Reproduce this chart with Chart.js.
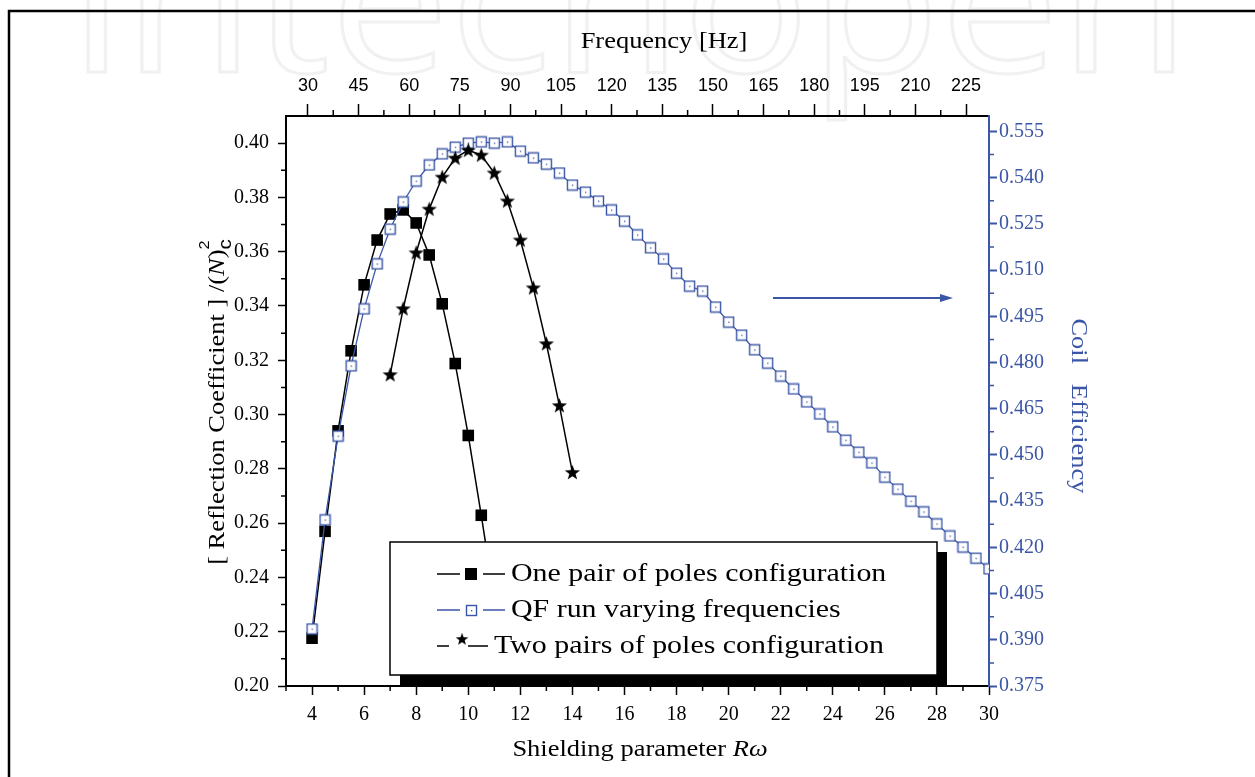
<!DOCTYPE html>
<html>
<head>
<meta charset="utf-8">
<script src="https://cdn.jsdelivr.net/npm/chart.js@4/dist/chart.umd.min.js"></script>
<style>
  html, body { margin: 0; padding: 0; background: #fff; }
  #chart { display: block; }
</style>
</head>
<body>
<canvas id="chart" width="1255" height="777"></canvas>
<script>
// data
const onePairX = [4, 4.5, 5, 5.5, 6, 6.5, 7, 7.5, 8, 8.5, 9, 9.5, 10, 10.5, 11];
const onePairY = [0.2176, 0.257, 0.294, 0.3235, 0.3478, 0.3643, 0.3739, 0.3754, 0.3706, 0.3588, 0.3408, 0.3188, 0.2923, 0.2629, 0.232];

const twoPairX = [7, 7.5, 8, 8.5, 9, 9.5, 10, 10.5, 11, 11.5, 12, 12.5, 13, 13.5, 14];
const twoPairY = [0.3147, 0.339, 0.3596, 0.3757, 0.3875, 0.3945, 0.3974, 0.3956, 0.389, 0.3787, 0.3643, 0.3467, 0.3261, 0.3033, 0.2787];

const qfX = [4, 4.5, 5, 5.5, 6, 6.5, 7, 7.5, 8, 8.5, 9, 9.5, 10, 10.5, 11, 11.5, 12, 12.5, 13, 13.5,
  14, 14.5, 15, 15.5, 16, 16.5, 17, 17.5, 18, 18.5, 19, 19.5, 20, 20.5, 21, 21.5, 22, 22.5, 23, 23.5,
  24, 24.5, 25, 25.5, 26, 26.5, 27, 27.5, 28, 28.5, 29, 29.5, 30];
const qfY = [0.3935, 0.4289, 0.4561, 0.4789, 0.4974, 0.512, 0.5233, 0.5321, 0.5389, 0.5441, 0.5477, 0.5499, 0.5512, 0.5516, 0.5512, 0.5516, 0.5486, 0.5464, 0.5444, 0.5415,
  0.5376, 0.5353, 0.5324, 0.5295, 0.5259, 0.5214, 0.5172, 0.5136, 0.509, 0.5048, 0.5032, 0.498, 0.4931, 0.4889, 0.4841, 0.4798, 0.4756, 0.4714, 0.4672, 0.4633,
  0.4591, 0.4548, 0.4509, 0.4474, 0.4428, 0.4389, 0.435, 0.4315, 0.4276, 0.4237, 0.4201, 0.4165, 0.413];

// tick labels
const bottomTicks = [4, 6, 8, 10, 12, 14, 16, 18, 20, 22, 24, 26, 28, 30];
const topTicks = [30, 45, 60, 75, 90, 105, 120, 135, 150, 165, 180, 195, 210, 225];
const leftTicks = [0.20, 0.22, 0.24, 0.26, 0.28, 0.30, 0.32, 0.34, 0.36, 0.38, 0.40];
const rightTicks = [0.375, 0.390, 0.405, 0.420, 0.435, 0.450, 0.465, 0.480, 0.495, 0.510, 0.525, 0.540, 0.555];

const labels = ['One pair of poles configuration', 'QF run varying frequencies', 'Two pairs of poles configuration'];

const BLUE = '#3b56a6';
const SERIF = '"Liberation Serif", "DejaVu Serif", serif';
const SANS = '"Liberation Sans", Arial, sans-serif';
const WIDE = 1.15; // the original font runs wider than Times

// marker images
function openSquare() {
  const c = document.createElement('canvas');
  c.width = 13; c.height = 13;
  const g = c.getContext('2d');
  g.fillStyle = '#fff';
  g.fillRect(1, 1, 11, 11);
  g.strokeStyle = BLUE;
  g.lineWidth = 1.4;
  g.strokeRect(1.5, 1.5, 10, 10);
  g.fillStyle = BLUE;
  g.fillRect(6, 6, 1.3, 1.3);
  return c;
}
function star() {
  const c = document.createElement('canvas');
  c.width = 17; c.height = 17;
  const g = c.getContext('2d');
  g.fillStyle = '#000';
  g.beginPath();
  for (let i = 0; i < 10; i++) {
    const r = i % 2 ? 3.3 : 8;
    const a = -Math.PI / 2 + i * Math.PI / 5;
    g.lineTo(8.5 + r * Math.cos(a), 9 + r * Math.sin(a));
  }
  g.closePath();
  g.fill();
  return c;
}
const sqImg = openSquare();
const starImg = star();

function pts(xs, ys) { return xs.map((x, i) => ({ x: x, y: ys[i] })); }
function fixedTicks(list) { return scale => { scale.ticks = list.map(v => ({ value: v })); }; }

// draws a run of [text, font, dy, noAdvance] pieces stretched sideways, from x (or centred on it)
function wideText(ctx, pieces, x, y, centre) {
  let total = 0;
  pieces.forEach(p => { ctx.font = p[1]; if (!p[3]) total += ctx.measureText(p[0]).width; });
  ctx.save();
  ctx.translate(x, y);
  ctx.scale(WIDE, 1);
  ctx.textAlign = 'left';
  let cx = centre ? -total / 2 : 0;
  pieces.forEach(p => {
    ctx.font = p[1];
    ctx.fillText(p[0], cx, p[2] || 0);
    if (!p[3]) cx += ctx.measureText(p[0]).width;
  });
  ctx.restore();
  return total * WIDE;
}

const decor = {
  id: 'decor',
  beforeDraw(chart) {
    const ctx = chart.ctx;
    ctx.save();
    // watermark
    ctx.font = '200px "Open Sans", sans-serif';
    const w = ctx.measureText('intechopen').width;
    ctx.translate(70, 72);
    ctx.scale(1120 / w, 1);
    ctx.strokeStyle = '#f1f1f1';
    ctx.lineWidth = 3;
    ctx.strokeText('intechopen', 0, 0);
    ctx.restore();
    ctx.save();
    // outer frame
    ctx.strokeStyle = '#000';
    ctx.lineWidth = 2.5;
    ctx.beginPath();
    ctx.moveTo(9, 777);
    ctx.lineTo(9, 11);
    ctx.lineTo(1255, 11);
    ctx.stroke();
    ctx.restore();
  },
  afterDraw(chart) {
    const ctx = chart.ctx;
    const a = chart.chartArea;
    const s = chart.scales;
    ctx.save();
    ctx.lineWidth = 1.5;
    // minor ticks
    ctx.strokeStyle = '#000';
    ctx.beginPath();
    for (let v = 3; v <= 30; v += 2) {
      const p = s.x.getPixelForValue(v);
      ctx.moveTo(p, a.bottom); ctx.lineTo(p, a.bottom + 5);
    }
    for (let v = 37.5; v < 232; v += 15) {
      const p = s.x2.getPixelForValue(v);
      ctx.moveTo(p, a.top); ctx.lineTo(p, a.top - 6);
    }
    for (let v = 0.21; v < 0.405; v += 0.02) {
      const p = s.y.getPixelForValue(v);
      ctx.moveTo(a.left, p); ctx.lineTo(a.left - 5, p);
    }
    ctx.stroke();
    ctx.strokeStyle = BLUE;
    ctx.beginPath();
    for (let v = 0.3825; v < 0.56; v += 0.015) {
      const p = s.y1.getPixelForValue(v);
      ctx.moveTo(a.right, p); ctx.lineTo(a.right + 5, p);
    }
    ctx.stroke();

    // axis titles
    const T = '23px ' + SERIF;
    const TI = 'italic 23px ' + SERIF;
    ctx.fillStyle = '#000';
    ctx.textBaseline = 'middle';
    wideText(ctx, [['Frequency [Hz]', T]], 664, 42, true);
    wideText(ctx, [['Shielding parameter ', T], ['R\u03c9', TI]], 640, 750, true);

    // left title, rotated; the 2 and the c sit one above the other
    ctx.save();
    ctx.translate(218, 402);
    ctx.rotate(-Math.PI / 2);
    wideText(ctx, [
      ['[ Reflection Coefficient ] /(', T],
      ['N', TI],
      [')', T],
      ['2', '14px ' + SANS, -13, true],
      ['c', '18px ' + SANS, 8]
    ], 0, 0, true);
    ctx.restore();

    // right title, rotated
    ctx.save();
    ctx.translate(1078, 406);
    ctx.rotate(Math.PI / 2);
    ctx.fillStyle = BLUE;
    wideText(ctx, [['Coil   Efficiency', T]], 0, 0, true);
    ctx.restore();

    // arrow pointing to the right axis
    ctx.strokeStyle = BLUE;
    ctx.fillStyle = BLUE;
    ctx.lineWidth = 2;
    ctx.beginPath();
    ctx.moveTo(773, 298); ctx.lineTo(944, 298);
    ctx.stroke();
    ctx.beginPath();
    ctx.moveTo(953, 298); ctx.lineTo(940, 294); ctx.lineTo(940, 302);
    ctx.closePath();
    ctx.fill();

    // legend with shadow
    ctx.fillStyle = '#000';
    ctx.fillRect(400, 552, 547, a.bottom - 552);
    ctx.fillStyle = '#fff';
    ctx.fillRect(390, 542, 547, 133);
    ctx.strokeStyle = '#000';
    ctx.lineWidth = 1.5;
    ctx.strokeRect(390, 542, 547, 133);

    const rows = [574, 610, 646];
    // row 1
    ctx.strokeStyle = '#000';
    ctx.beginPath();
    ctx.moveTo(437, rows[0]); ctx.lineTo(460, rows[0]);
    ctx.moveTo(483, rows[0]); ctx.lineTo(505, rows[0]);
    ctx.stroke();
    ctx.fillStyle = '#000';
    ctx.fillRect(465, rows[0] - 6, 12, 12);
    // row 2
    ctx.strokeStyle = BLUE;
    ctx.beginPath();
    ctx.moveTo(437, rows[1]); ctx.lineTo(460, rows[1]);
    ctx.moveTo(483, rows[1]); ctx.lineTo(505, rows[1]);
    ctx.stroke();
    ctx.drawImage(sqImg, 465, rows[1] - 6);
    // row 3
    ctx.strokeStyle = '#000';
    ctx.beginPath();
    ctx.moveTo(437, rows[2]); ctx.lineTo(449, rows[2]);
    ctx.moveTo(468, rows[2]); ctx.lineTo(488, rows[2]);
    ctx.stroke();
    ctx.drawImage(starImg, 455, rows[2] - 14, 14, 14);

    ctx.fillStyle = '#000';
    const L = '26px ' + SERIF;
    wideText(ctx, [[labels[0], L]], 511, rows[0], false);
    wideText(ctx, [[labels[1], L]], 511, rows[1], false);
    wideText(ctx, [[labels[2], L]], 494, rows[2], false);
    ctx.restore();
  }
};

new Chart(document.getElementById('chart'), {
  type: 'line',
  data: {
    datasets: [
      {
        label: labels[2],
        data: pts(twoPairX, twoPairY),
        xAxisID: 'x', yAxisID: 'y',
        borderColor: '#000', borderWidth: 1.5,
        pointStyle: starImg, pointRadius: 8,
        order: 0
      },
      {
        label: labels[1],
        data: pts(qfX, qfY),
        xAxisID: 'x', yAxisID: 'y1',
        borderColor: BLUE, borderWidth: 1.3,
        pointStyle: sqImg, pointRadius: 7,
        order: 1
      },
      {
        label: labels[0],
        data: pts(onePairX, onePairY),
        xAxisID: 'x', yAxisID: 'y',
        borderColor: '#000', borderWidth: 1.5,
        backgroundColor: '#000',
        pointStyle: 'rect', pointRadius: 8.2, pointBorderWidth: 0,
        order: 2
      }
    ]
  },
  options: {
    responsive: false,
    animation: false,
    events: [],
    layout: { padding: 0 },
    plugins: { legend: { display: false }, tooltip: { enabled: false } },
    scales: {
      x: {
        type: 'linear', position: 'bottom', min: 3, max: 30,
        afterBuildTicks: fixedTicks(bottomTicks),
        afterFit: sc => { sc.height = 91; },
        border: { color: '#000', width: 2 },
        grid: { drawOnChartArea: false, tickLength: 9, tickColor: '#000', tickWidth: 1.5 },
        ticks: { color: '#000', padding: 8, maxRotation: 0, autoSkip: false, font: { family: SERIF, size: 20 } }
      },
      x2: {
        type: 'linear', position: 'top', min: 23.5, max: 231.8,
        afterBuildTicks: fixedTicks(topTicks),
        afterFit: sc => { sc.height = 116; },
        border: { color: '#000', width: 2 },
        grid: { drawOnChartArea: false, tickLength: 12, tickColor: '#000', tickWidth: 1.5 },
        ticks: { color: '#000', padding: 7, maxRotation: 0, autoSkip: false, font: { family: SANS, size: 18 } }
      },
      y: {
        type: 'linear', position: 'left', min: 0.20, max: 0.41,
        afterBuildTicks: fixedTicks(leftTicks),
        afterFit: sc => { sc.width = 286; },
        border: { color: '#000', width: 2 },
        grid: { drawOnChartArea: false, tickLength: 8, tickColor: '#000', tickWidth: 1.5 },
        ticks: { color: '#000', padding: 9, autoSkip: false, font: { family: SERIF, size: 20 },
          callback: v => v.toFixed(2) }
      },
      y1: {
        type: 'linear', position: 'right', min: 0.375, max: 0.56,
        afterBuildTicks: fixedTicks(rightTicks),
        afterFit: sc => { sc.width = 266; },
        border: { color: BLUE, width: 2 },
        grid: { drawOnChartArea: false, tickLength: 8, tickColor: BLUE, tickWidth: 2 },
        ticks: { color: BLUE, padding: 2, autoSkip: false, font: { family: SERIF, size: 20 },
          callback: v => v.toFixed(3) }
      }
    }
  },
  plugins: [decor]
});
</script>
</body>
</html>
